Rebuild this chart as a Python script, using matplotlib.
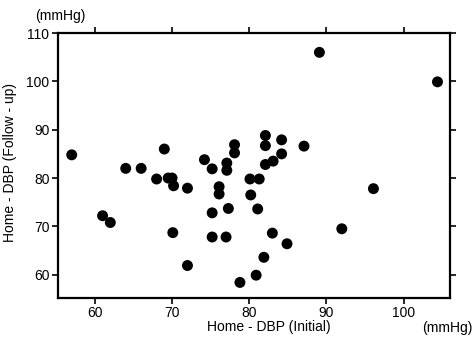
import matplotlib
matplotlib.use("Agg")
import matplotlib.pyplot as plt

# Home DBP, initial vs follow-up (mmHg)
dbp_initial = [57, 61, 62, 64, 66, 68, 69, 69.5, 70, 70.2, 70.1, 72, 72,
               74.2, 75.2, 75.2, 75.2, 76.1, 76.1, 77.1, 77.1, 77.3, 77,
               78.1, 78.1, 78.8, 80.1, 80.2, 81.3, 81.1, 80.9, 81.9,
               82.1, 82.1, 82.1, 83.1, 83, 84.2, 84.2, 84.9, 87.1, 89.1,
               92, 96.1, 104.4]
dbp_follow = [84.8, 72.2, 70.8, 82, 82, 79.8, 86, 80, 80, 78.4, 68.7, 77.9, 61.9,
              83.8, 81.9, 72.8, 67.8, 78.2, 76.7, 83.1, 81.6, 73.7, 67.8,
              86.9, 85.2, 58.4, 79.8, 76.5, 79.8, 73.6, 59.9, 63.6,
              88.8, 86.7, 82.8, 83.5, 68.6, 87.9, 85, 66.4, 86.6, 106,
              69.5, 77.8, 99.9]

plt.rcParams['font.family'] = ['Liberation Sans', 'DejaVu Sans']
fs = 10

fig = plt.figure(figsize=(4.74, 3.44), dpi=100)
ax = fig.add_axes([0.122, 0.134, 0.827, 0.770])

ax.scatter(dbp_initial, dbp_follow, s=62, color='black', edgecolors='none', zorder=3)

ax.set_xlim(55.2, 106)
ax.set_ylim(55.2, 110)
ax.set_xticks([60, 70, 80, 90, 100])
ax.set_yticks([60, 70, 80, 90, 100, 110])

for s in ax.spines.values():
    s.set_linewidth(1.6)

ax.tick_params(direction='out', length=4, width=1.2, labelsize=fs,
               top=True, right=True, pad=2)

ax.set_xlabel('Home - DBP (Initial)', fontsize=fs)
ax.xaxis.set_label_coords(0.538, -0.109)
ax.xaxis.label.set_va('center')
ax.set_ylabel('Home - DBP (Follow - up)', fontsize=fs)
ax.yaxis.set_label_coords(-0.122, 0.513)
ax.yaxis.label.set_va('center')

fig.text(0.127, 0.953, '(mmHg)', fontsize=fs, ha='center', va='center')
fig.text(0.943, 0.047, '(mmHg)', fontsize=fs, ha='center', va='center')

fig.savefig('out.png', dpi=100)
